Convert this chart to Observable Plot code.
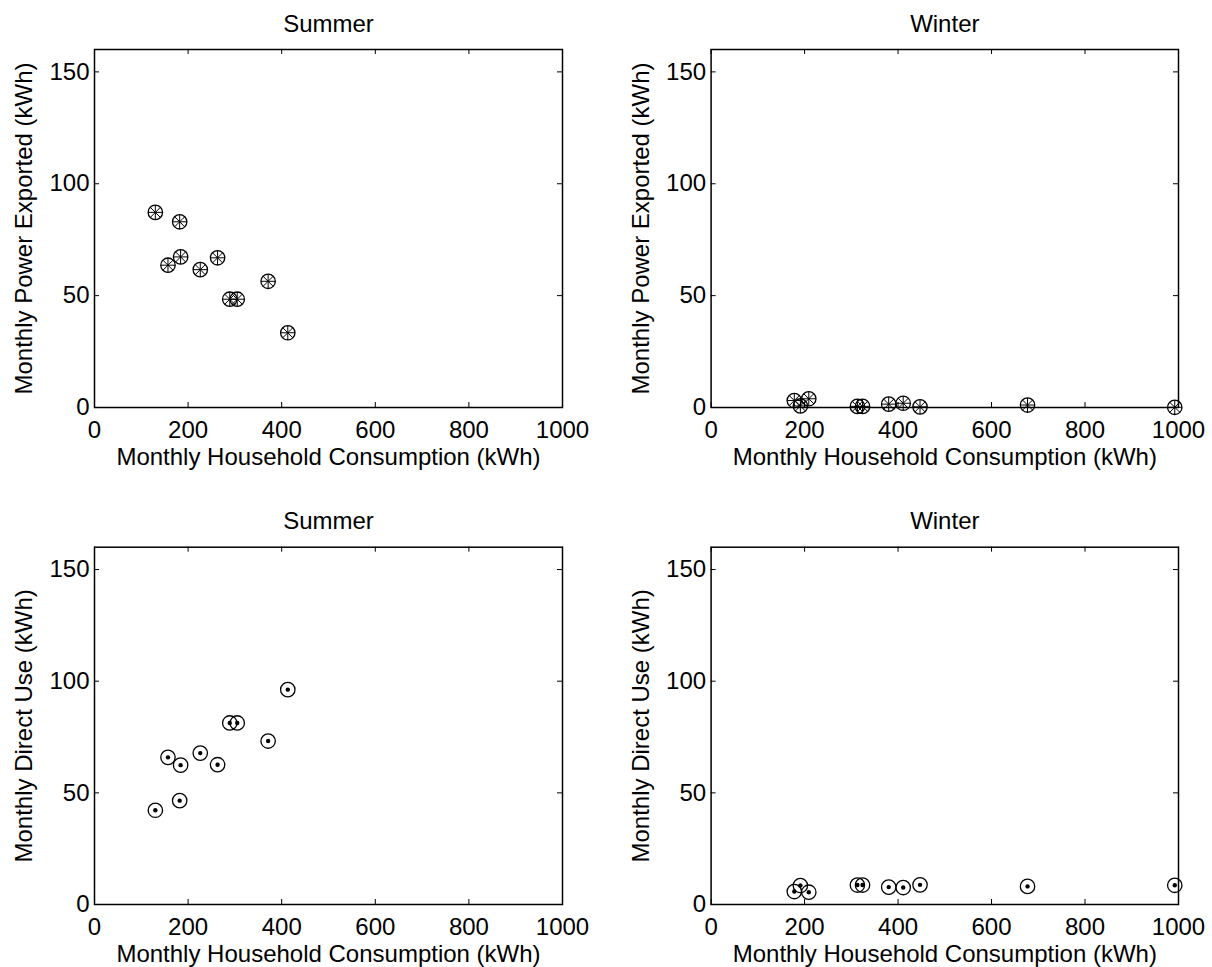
<!DOCTYPE html>
<html><head><meta charset="utf-8">
<script src="https://cdn.jsdelivr.net/npm/d3@7"></script>
<script src="https://cdn.jsdelivr.net/npm/@observablehq/plot@0.6"></script>
<style>
body{margin:0;background:#fff;}
#fig{position:relative;width:1212px;height:967px;background:#fff;overflow:hidden;}
.panel{position:absolute;}
</style></head><body><div id="fig"></div>
<script>
const summerConsumption = [130, 157, 182, 184, 226, 263, 289, 305, 371, 413];
const summerExported    = [87.2, 63.6, 83.0, 67.3, 61.6, 66.9, 48.4, 48.4, 56.4, 33.4];
const summerDirect      = [42.2, 65.9, 46.5, 62.4, 67.8, 62.6, 81.3, 81.3, 73.2, 96.2];
const winterConsumption = [178, 191, 209, 313, 324, 380, 411, 447, 677, 992];
const winterExported    = [3.1, 0.7, 3.9, 0.5, 0.5, 1.5, 1.9, 0.3, 1.1, 0.1];
const winterDirect      = [5.8, 8.5, 5.5, 8.7, 8.7, 7.8, 7.6, 8.8, 8.1, 8.6];
const xTicks = [0, 200, 400, 600, 800, 1000];
const yTicks = [0, 50, 100, 150];
const titles = ["Summer", "Winter"];
const xLabel = "Monthly Household Consumption (kWh)";
const yLabels = ["Monthly Power Exported (kWh)", "Monthly Direct Use (kWh)"];

const FONT = "'Liberation Sans', Arial, Helvetica, sans-serif";

function panel(cfg) {
  const {left, top, width, height, ml, mr, mt, mb, title, ylabel, xs, ys, marker} = cfg;
  const innerW = width - ml - mr;
  const innerH = height - mt - mb;
  const data = xs.map((x, i) => ({x, y: ys[i]}));
  const marks = [
    Plot.frame({stroke: "black", strokeWidth: 1.5}),
    Plot.tickX(xTicks, {x: d => d, insetTop: innerH - 5, stroke: "black"}),
    Plot.tickX(xTicks, {x: d => d, insetBottom: innerH - 5, stroke: "black"}),
    Plot.tickY(yTicks, {y: d => d, insetRight: innerW - 5, stroke: "black"}),
    Plot.tickY(yTicks, {y: d => d, insetLeft: innerW - 5, stroke: "black"}),
    Plot.axisX({ticks: xTicks, tickSize: 0, tickPadding: 13, tickFormat: d => String(d), label: null, fontSize: 24, fill: "black"}),
    Plot.axisY({ticks: yTicks, tickSize: 0, tickPadding: 5, tickFormat: d => String(d), label: null, fontSize: 24, fill: "black"}),
    Plot.text([title], {frameAnchor: "top", dy: -25.6, lineAnchor: "middle", textAnchor: "middle", text: d => d, fontSize: 24, fill: "black"}),
    Plot.text([xLabel], {frameAnchor: "bottom", dy: 50, lineAnchor: "middle", textAnchor: "middle", text: d => d, fontSize: 24, fill: "black"}),
    Plot.text([ylabel], {frameAnchor: "left", dx: -70, rotate: -90, lineAnchor: "middle", textAnchor: "middle", text: d => d, fontSize: 24, fill: "black"}),
    Plot.dot(data, {x: "x", y: "y", r: 7.2, stroke: "black", strokeWidth: 1.3, fill: "none"})
  ];
  if (marker === "asterisk") {
    marks.push(Plot.dot(data, {x: "x", y: "y", r: 4.7, symbol: "plus", stroke: "black", strokeWidth: 1}));
    marks.push(Plot.dot(data, {x: "x", y: "y", r: 4.7, symbol: "times", stroke: "black", strokeWidth: 1}));
  } else {
    marks.push(Plot.dot(data, {x: "x", y: "y", r: 2.2, fill: "black", stroke: "none"}));
  }
  const svg = Plot.plot({
    width, height,
    marginLeft: ml, marginRight: mr, marginTop: mt, marginBottom: mb,
    x: {domain: [0, 1000]},
    y: {domain: [0, 160]},
    style: {fontFamily: FONT, fontSize: "24px", background: "transparent", overflow: "visible", color: "black"},
    marks
  });
  const div = document.createElement("div");
  div.className = "panel";
  div.style.left = left + "px";
  div.style.top = top + "px";
  div.appendChild(svg);
  document.getElementById("fig").appendChild(div);
}

panel({left: 0, top: 0, width: 606, height: 480, ml: 94, mr: 44, mt: 49, mb: 73,
  title: titles[0], ylabel: yLabels[0], xs: summerConsumption, ys: summerExported, marker: "asterisk"});
panel({left: 606, top: 0, width: 606, height: 480, ml: 104.6, mr: 34, mt: 49, mb: 73,
  title: titles[1], ylabel: yLabels[0], xs: winterConsumption, ys: winterExported, marker: "asterisk"});
panel({left: 0, top: 480, width: 606, height: 487, ml: 94, mr: 44, mt: 66.7, mb: 63,
  title: titles[0], ylabel: yLabels[1], xs: summerConsumption, ys: summerDirect, marker: "dot"});
panel({left: 606, top: 480, width: 606, height: 487, ml: 104.6, mr: 34, mt: 66.7, mb: 63,
  title: titles[1], ylabel: yLabels[1], xs: winterConsumption, ys: winterDirect, marker: "dot"});
</script></body></html>
